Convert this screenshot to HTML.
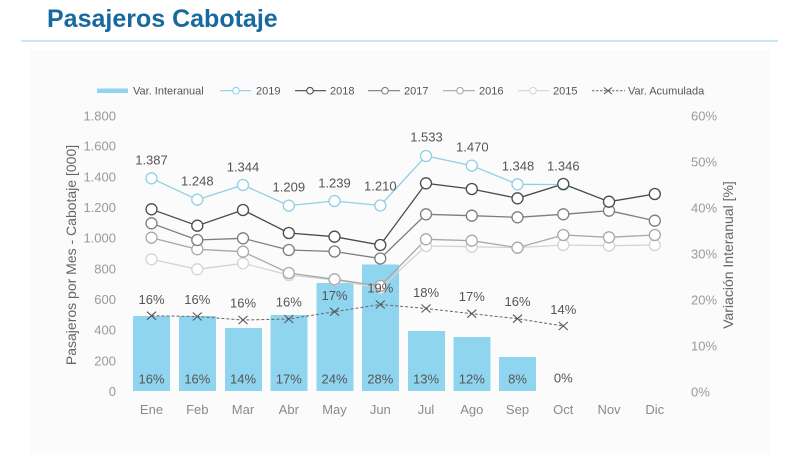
<!DOCTYPE html>
<html><head><meta charset="utf-8"><style>
html,body{margin:0;padding:0;background:#fff;}
svg{display:block;}
text{font-family:"Liberation Sans",sans-serif;}
</style></head><body>
<svg width="800" height="453" viewBox="0 0 800 453" xmlns="http://www.w3.org/2000/svg">
<rect x="0" y="0" width="800" height="453" fill="#fff"/>
<rect x="30" y="50" width="740" height="403" fill="#fbfbfb"/>
<text x="47" y="27" font-size="25" font-weight="bold" fill="#18699f">Pasajeros Cabotaje</text>
<line x1="21" y1="41" x2="778" y2="41" stroke="#a3dcec" stroke-width="1.2"/>

<!-- legend -->
<g font-size="11" fill="#555">
<rect x="97" y="88.5" width="31" height="4.5" fill="#8fd5ef"/>
<text x="133" y="94.5">Var. Interanual</text>
<line x1="220" y1="90.7" x2="251" y2="90.7" stroke="#90d0e4" stroke-width="1.2"/>
<circle cx="236" cy="90.7" r="3.3" fill="#fff" stroke="#90d0e4" stroke-width="1.1"/>
<text x="256" y="94.5">2019</text>
<line x1="295" y1="90.7" x2="326" y2="90.7" stroke="#4a4a4a" stroke-width="1.2"/>
<circle cx="310" cy="90.7" r="3.3" fill="#fff" stroke="#4a4a4a" stroke-width="1.1"/>
<text x="330" y="94.5">2018</text>
<line x1="368" y1="90.7" x2="400" y2="90.7" stroke="#7d7d7d" stroke-width="1.2"/>
<circle cx="385" cy="90.7" r="3.3" fill="#fff" stroke="#7d7d7d" stroke-width="1.1"/>
<text x="404" y="94.5">2017</text>
<line x1="443" y1="90.7" x2="475" y2="90.7" stroke="#a8a8a8" stroke-width="1.2"/>
<circle cx="460" cy="90.7" r="3.3" fill="#fff" stroke="#a8a8a8" stroke-width="1.1"/>
<text x="479" y="94.5">2016</text>
<line x1="518" y1="90.7" x2="549" y2="90.7" stroke="#d4d4d4" stroke-width="1.2"/>
<circle cx="533" cy="90.7" r="3.3" fill="#fff" stroke="#d4d4d4" stroke-width="1.1"/>
<text x="553" y="94.5">2015</text>
<line x1="592" y1="90.7" x2="625" y2="90.7" stroke="#666" stroke-width="1" stroke-dasharray="2.5 1.5"/>
<path d="M604 87.5 L612 94 M604 94 L612 87.5" stroke="#555" stroke-width="1"/>
<text x="628" y="94.5">Var. Acumulada</text>
</g>

<!-- left ticks -->
<g font-size="13" fill="#9a9a9a" text-anchor="end">
<text x="116" y="120.4">1.800</text>
<text x="116" y="150.7">1.600</text>
<text x="116" y="181.4">1.400</text>
<text x="116" y="212">1.200</text>
<text x="116" y="242.7">1.000</text>
<text x="116" y="273.6">800</text>
<text x="116" y="304">600</text>
<text x="116" y="334.7">400</text>
<text x="116" y="365.4">200</text>
<text x="116" y="396">0</text>
</g>
<!-- right ticks -->
<g font-size="13" fill="#9a9a9a">
<text x="691" y="120.7">60%</text>
<text x="691" y="166.4">50%</text>
<text x="691" y="212.4">40%</text>
<text x="691" y="258.7">30%</text>
<text x="691" y="304.7">20%</text>
<text x="691" y="350.4">10%</text>
<text x="691" y="396.7">0%</text>
</g>
<text transform="translate(76,255) rotate(-90)" font-size="14" fill="#666" text-anchor="middle">Pasajeros por Mes - Cabotaje [000]</text>
<text transform="translate(733,255) rotate(-90)" font-size="14" fill="#666" text-anchor="middle">Variación Interanual [%]</text>

<!-- months -->
<g font-size="13" fill="#8a8a8a" text-anchor="middle">
<text x="151.5" y="414">Ene</text>
<text x="197.3" y="414">Feb</text>
<text x="243" y="414">Mar</text>
<text x="288.8" y="414">Abr</text>
<text x="334.5" y="414">May</text>
<text x="380.3" y="414">Jun</text>
<text x="426" y="414">Jul</text>
<text x="471.8" y="414">Ago</text>
<text x="517.5" y="414">Sep</text>
<text x="563.3" y="414">Oct</text>
<text x="609" y="414">Nov</text>
<text x="654.8" y="414">Dic</text>
</g>

<!-- bars -->
<g fill="#8fd5ef">
<rect x="133" y="316" width="37" height="75"/>
<rect x="179" y="316" width="37" height="75"/>
<rect x="225" y="328" width="37" height="63"/>
<rect x="270.5" y="315" width="37" height="76"/>
<rect x="316.5" y="283" width="37" height="108"/>
<rect x="362" y="264.5" width="37" height="126.5"/>
<rect x="408" y="331" width="37" height="60"/>
<rect x="453.5" y="337" width="37" height="54"/>
<rect x="499" y="357" width="37" height="34"/>
</g>

<!-- lines -->
<g fill="none" stroke-width="1.3">
<polyline stroke="#d4d4d4" points="151.5,259.3 197.3,269.3 243,263.3 288.8,275 334.5,280 380.3,288 426,246 471.8,246.7 517.5,247.7 563.3,245 609,245.7 654.8,245"/>
<polyline stroke="#a8a8a8" points="151.5,237.7 197.3,249.3 243,251.7 288.8,273 334.5,279.3 380.3,286 426,239.3 471.8,240.7 517.5,247.7 563.3,235 609,237.3 654.8,235"/>
<polyline stroke="#7d7d7d" points="151.5,223.3 197.3,240 243,238.3 288.8,250 334.5,251.5 380.3,258.5 426,214.3 471.8,215.7 517.5,217.3 563.3,214.3 609,210.7 654.8,220.7"/>
<polyline stroke="#90d0e4" points="151.5,178.3 197.3,199.7 243,185 288.8,205.6 334.5,201 380.3,205.5 426,156 471.8,165.6 517.5,184.3 563.3,184.6"/>
<polyline stroke="#4a4a4a" points="151.5,209.3 197.3,225.7 243,210 288.8,233 334.5,236.7 380.3,245 426,183.3 471.8,189 517.5,198.3 563.3,184 609,201.7 654.8,194"/>
</g>
<g fill="#fff" stroke-width="1.3">
<g stroke="#d4d4d4">
<circle cx="151.5" cy="259.3" r="5.5"/><circle cx="197.3" cy="269.3" r="5.5"/><circle cx="243" cy="263.3" r="5.5"/><circle cx="288.8" cy="275" r="5.5"/><circle cx="334.5" cy="280" r="5.5"/><circle cx="380.3" cy="288" r="5.5"/><circle cx="426" cy="246" r="5.5"/><circle cx="471.8" cy="246.7" r="5.5"/><circle cx="517.5" cy="247.7" r="5.5"/><circle cx="563.3" cy="245" r="5.5"/><circle cx="609" cy="245.7" r="5.5"/><circle cx="654.8" cy="245" r="5.5"/>
</g>
<g stroke="#a8a8a8">
<circle cx="151.5" cy="237.7" r="5.5"/><circle cx="197.3" cy="249.3" r="5.5"/><circle cx="243" cy="251.7" r="5.5"/><circle cx="288.8" cy="273" r="5.5"/><circle cx="334.5" cy="279.3" r="5.5"/><circle cx="380.3" cy="286" r="5.5"/><circle cx="426" cy="239.3" r="5.5"/><circle cx="471.8" cy="240.7" r="5.5"/><circle cx="517.5" cy="247.7" r="5.5"/><circle cx="563.3" cy="235" r="5.5"/><circle cx="609" cy="237.3" r="5.5"/><circle cx="654.8" cy="235" r="5.5"/>
</g>
<g stroke="#7d7d7d">
<circle cx="151.5" cy="223.3" r="5.5"/><circle cx="197.3" cy="240" r="5.5"/><circle cx="243" cy="238.3" r="5.5"/><circle cx="288.8" cy="250" r="5.5"/><circle cx="334.5" cy="251.5" r="5.5"/><circle cx="380.3" cy="258.5" r="5.5"/><circle cx="426" cy="214.3" r="5.5"/><circle cx="471.8" cy="215.7" r="5.5"/><circle cx="517.5" cy="217.3" r="5.5"/><circle cx="563.3" cy="214.3" r="5.5"/><circle cx="609" cy="210.7" r="5.5"/><circle cx="654.8" cy="220.7" r="5.5"/>
</g>
<g stroke="#90d0e4">
<circle cx="151.5" cy="178.3" r="5.5"/><circle cx="197.3" cy="199.7" r="5.5"/><circle cx="243" cy="185" r="5.5"/><circle cx="288.8" cy="205.6" r="5.5"/><circle cx="334.5" cy="201" r="5.5"/><circle cx="380.3" cy="205.5" r="5.5"/><circle cx="426" cy="156" r="5.5"/><circle cx="471.8" cy="165.6" r="5.5"/><circle cx="517.5" cy="184.3" r="5.5"/><circle cx="563.3" cy="184.6" r="5.5"/>
</g>
<g stroke="#4a4a4a">
<circle cx="151.5" cy="209.3" r="5.5"/><circle cx="197.3" cy="225.7" r="5.5"/><circle cx="243" cy="210" r="5.5"/><circle cx="288.8" cy="233" r="5.5"/><circle cx="334.5" cy="236.7" r="5.5"/><circle cx="380.3" cy="245" r="5.5"/><circle cx="426" cy="183.3" r="5.5"/><circle cx="471.8" cy="189" r="5.5"/><circle cx="517.5" cy="198.3" r="5.5"/><circle cx="563.3" cy="184" r="5.5"/><circle cx="609" cy="201.7" r="5.5"/><circle cx="654.8" cy="194" r="5.5"/>
</g>
</g>

<!-- accumulated -->
<polyline fill="none" stroke="#666" stroke-width="1" stroke-dasharray="3 2" points="151.5,315.7 197.3,316.5 243,320 288.8,319 334.5,311.7 380.3,304.5 426,308.5 471.8,313.7 517.5,318.7 563.3,326"/>
<path fill="none" stroke="#555" stroke-width="1.1" d="
M147 311.7 L156 319.7 M147 319.7 L156 311.7
M192.8 312.5 L201.8 320.5 M192.8 320.5 L201.8 312.5
M238.5 316 L247.5 324 M238.5 324 L247.5 316
M284.3 315 L293.3 323 M284.3 323 L293.3 315
M330 307.7 L339 315.7 M330 315.7 L339 307.7
M375.8 300.5 L384.8 308.5 M375.8 308.5 L384.8 300.5
M421.5 304.5 L430.5 312.5 M421.5 312.5 L430.5 304.5
M467.3 309.7 L476.3 317.7 M467.3 317.7 L476.3 309.7
M513 314.7 L522 322.7 M513 322.7 L522 314.7
M558.8 322 L567.8 330 M558.8 330 L567.8 322"/>

<!-- 2019 labels -->
<g font-size="13" fill="#555" text-anchor="middle">
<text x="151.5" y="164.7">1.387</text>
<text x="197.3" y="185.7">1.248</text>
<text x="243" y="171.4">1.344</text>
<text x="288.8" y="191.4">1.209</text>
<text x="334.5" y="187.7">1.239</text>
<text x="380.3" y="190.7">1.210</text>
<text x="426.5" y="141.4">1.533</text>
<text x="472.3" y="151.4">1.470</text>
<text x="518" y="170.4">1.348</text>
<text x="563.3" y="170.4">1.346</text>
</g>
<!-- accumulated labels -->
<g font-size="13" fill="#555" text-anchor="middle">
<text x="151.5" y="304">16%</text>
<text x="197.3" y="304">16%</text>
<text x="243" y="307.5">16%</text>
<text x="288.8" y="306.5">16%</text>
<text x="334.5" y="300">17%</text>
<text x="380.3" y="292.5">19%</text>
<text x="426" y="297">18%</text>
<text x="471.8" y="301">17%</text>
<text x="517.5" y="306">16%</text>
<text x="563.3" y="314">14%</text>
</g>
<!-- bar labels -->
<g font-size="13" fill="#555" text-anchor="middle">
<text x="151.5" y="383.3">16%</text>
<text x="197.3" y="383.3">16%</text>
<text x="243" y="383.3">14%</text>
<text x="288.8" y="383.3">17%</text>
<text x="334.5" y="383.3">24%</text>
<text x="380.3" y="383.3">28%</text>
<text x="426" y="383.3">13%</text>
<text x="471.8" y="383.3">12%</text>
<text x="517.5" y="383.3">8%</text>
<text x="563.3" y="382.5">0%</text>
</g>
</svg>
</body></html>
